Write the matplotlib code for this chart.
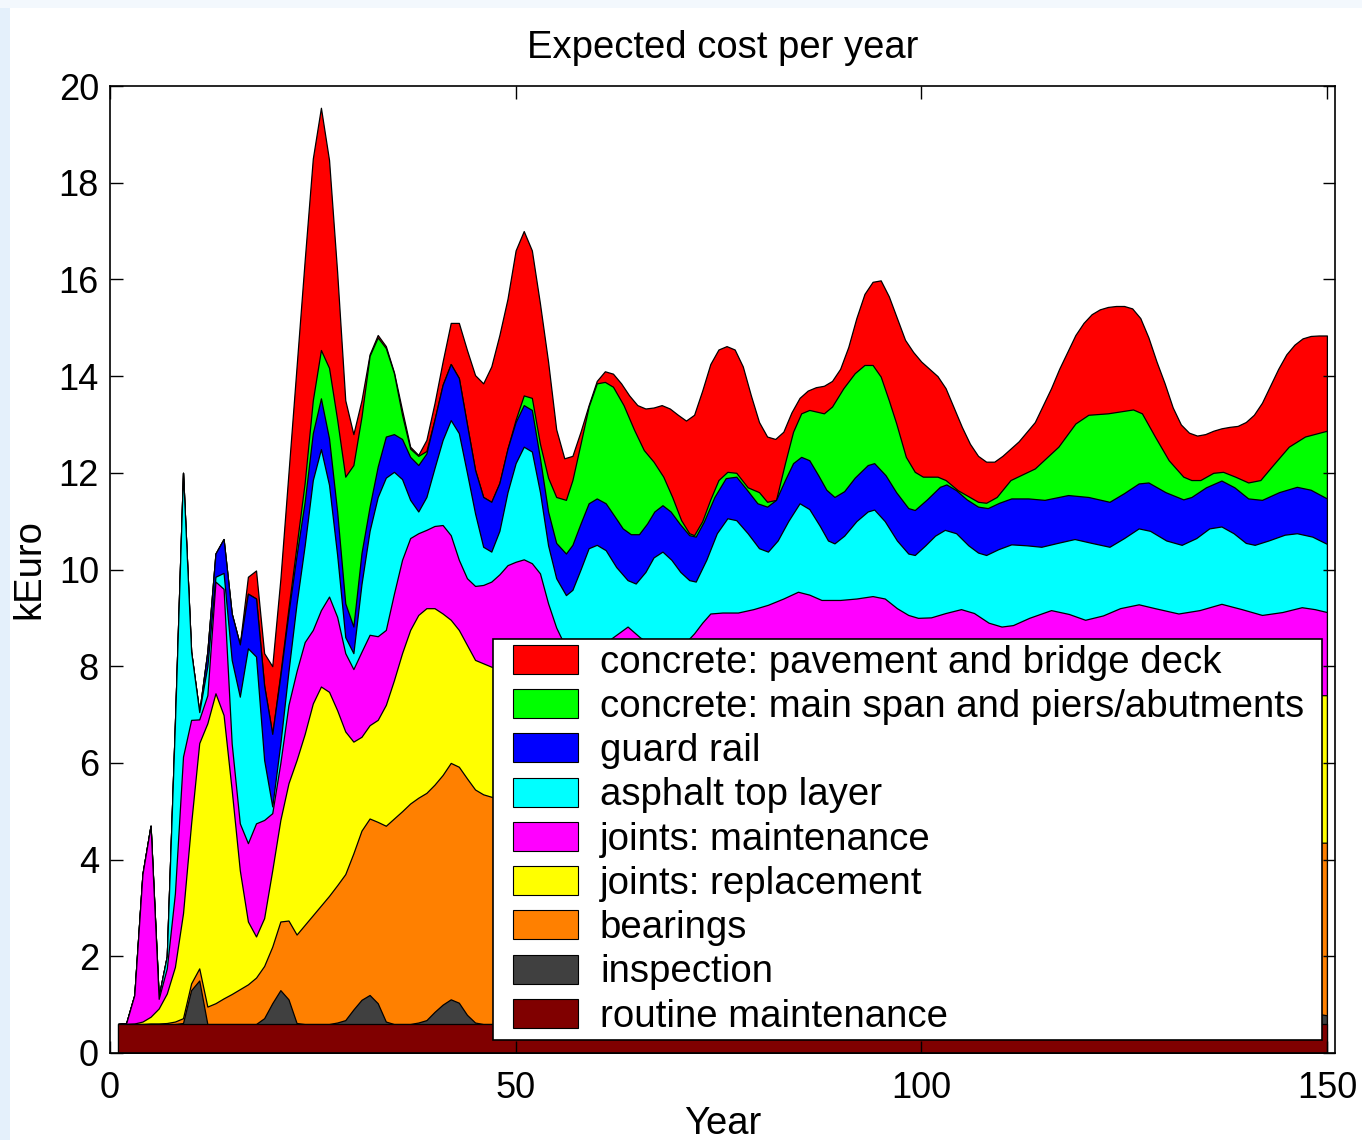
import numpy as np
import matplotlib
matplotlib.use("Agg")
import matplotlib.pyplot as plt
from matplotlib.patches import Patch, Rectangle
from matplotlib.legend_handler import HandlerPatch

plt.rcParams['font.family'] = ['Liberation Sans', 'DejaVu Sans']

# Expected maintenance cost per year (kEuro), stacked.
# Each *_top list holds the upper edge of that layer in the stack.
years_early = list(range(1, 56))

routine_x = [1, 150]
routine_top = [0.6, 0.6]

insp_top_early = [.6, .6, .6, .6, .6, .6, .6, .6, .62, 1.3,
                  1.5, .6, .6, .6, .6, .6, .6, .6, .72, 1.03,
                  1.3, 1.11, .62, .6, .6, .6, .6, .63, .68, .9,
                  1.1, 1.2, 1.03, .65, .6, .6, .6, .63, .68, .85,
                  1.0, 1.11, 1.04, .79, .63, .6, .6, .6, .6, .65,
                  .8, .95, .9, .7, .6]
insp_x_late = [60, 62.5, 65, 70.5, 73, 75.5, 81, 83.5, 86, 91.5, 94, 96.5,
               102, 104.5, 107, 112.5, 115, 117.5, 123.5, 126, 128.5,
               134, 136.5, 139, 145, 147.5, 150]
insp_top_late = [.6, .95, .6, .6, .95, .6, .6, .92, .6, .6, .9, .6,
                 .6, .9, .6, .6, .88, .6, .6, .88, .6,
                 .6, .85, .6, .6, .85, .78]

bear_top_early = [.6, .6, .6, .6, .61, .61, .62, .65, .72, 1.44,
                  1.75, .96, 1.03, 1.13, 1.22, 1.32, 1.42, 1.56, 1.8, 2.2,
                  2.72, 2.74, 2.45, 2.65, 2.85, 3.05, 3.25, 3.47, 3.7, 4.13,
                  4.6, 4.85, 4.78, 4.7, 4.85, 5.0, 5.16, 5.28, 5.38, 5.55,
                  5.75, 6.0, 5.92, 5.68, 5.45, 5.35, 5.3, 5.25, 5.2, 5.15,
                  5.1, 5.05, 5.0, 4.95, 4.9]
bear_x_late = [60, 65, 70, 75, 80, 85, 90, 95, 100, 105, 110, 115, 120,
               125, 130, 135, 140, 145, 150]
bear_top_late = [4.8, 4.7, 4.7, 4.8, 4.75, 4.65, 4.6, 4.55, 4.5, 4.45, 4.45,
                 4.4, 4.4, 4.4, 4.35, 4.35, 4.35, 4.35, 4.35]

repl_top_early = [.6, .6, .61, .65, .75, .92, 1.23, 1.78, 2.89, 4.75,
                  6.41, 6.82, 7.44, 6.99, 5.44, 3.78, 2.72, 2.41, 2.79, 3.78,
                  4.82, 5.58, 6.06, 6.6, 7.23, 7.58, 7.47, 7.09, 6.65, 6.44,
                  6.54, 6.78, 6.89, 7.2, 7.71, 8.27, 8.75, 9.06, 9.2, 9.2,
                  9.09, 8.96, 8.75, 8.44, 8.13, 8.06, 7.99, 7.95, 7.9, 7.85,
                  7.8, 7.7, 7.6, 7.5, 7.4]
repl_x_late = [57, 60, 63, 66, 70, 75, 80, 85, 90, 95, 100, 105, 110, 115,
               120, 125, 130, 135, 140, 145, 150]
repl_top_late = [7.3, 7.4, 7.6, 7.7, 7.8, 7.9, 8.0, 8.1, 8.0, 7.9, 7.8, 7.7,
                 7.6, 7.6, 7.5, 7.5, 7.45, 7.45, 7.4, 7.4, 7.4]

jmaint_top_early = [.6, .62, 1.2, 3.7, 4.7, 1.12, 1.75, 3.3, 6.13, 6.89,
                    6.9, 7.4, 9.75, 9.6, 6.4, 4.75, 4.34, 4.75, 4.82, 4.96,
                    6.0, 7.2, 7.9, 8.5, 8.75, 9.16, 9.44, 9.02, 8.27, 7.94,
                    8.3, 8.65, 8.62, 8.75, 9.5, 10.2, 10.65, 10.75, 10.82, 10.9,
                    10.92, 10.71, 10.2, 9.82, 9.66, 9.68, 9.75, 9.9, 10.09, 10.16,
                    10.21, 10.13, 9.92, 9.3, 8.8]
jmaint_x_late = [56, 58, 60, 62, 63.8, 65.3, 67, 69, 71, 72, 73, 74, 75.5,
                 77.4, 79.3, 81.1, 83, 84.8, 86.2, 87.7, 90, 92, 94, 95.5,
                 97, 98.4, 99.6, 101.2, 103, 104.9, 106.5, 108.3, 109.9,
                 111.3, 113.3, 116, 118.2, 120.2, 122.4, 124.5, 126.8, 128.8,
                 131.7, 134.3, 137, 139.5, 142, 144.5, 146.9, 148.5, 150]
jmaint_top_late = [8.45, 8.3, 8.35, 8.6, 8.82, 8.6, 8.4, 8.35, 8.5, 8.68,
                   8.9, 9.09, 9.11, 9.11, 9.18, 9.27, 9.4, 9.54, 9.48, 9.37,
                   9.37, 9.4, 9.45, 9.4, 9.2, 9.06, 9.0, 9.01, 9.1, 9.18,
                   9.1, 8.9, 8.82, 8.85, 9.0, 9.16, 9.08, 8.96, 9.05, 9.2,
                   9.28, 9.2, 9.09, 9.16, 9.29, 9.18, 9.06, 9.12, 9.22, 9.18,
                   9.12]

asph_top_early = [.6, .62, 1.2, 3.7, 4.7, 1.17, 2.0, 6.8, 12.0, 8.3,
                  7.05, 8.0, 9.85, 9.93, 8.13, 7.37, 8.37, 8.2, 6.06, 5.1,
                  6.4, 7.9, 9.3, 10.5, 11.85, 12.49, 11.75, 10.3, 8.6, 8.27,
                  9.7, 10.8, 11.5, 11.9, 12.02, 11.87, 11.44, 11.2, 11.5, 12.1,
                  12.68, 13.09, 12.82, 12.0, 11.16, 10.47, 10.37, 10.8, 11.6, 12.2,
                  12.54, 12.44, 11.6, 10.5, 9.82]
asph_x_late = [56.2, 57, 58, 59, 60, 61.1, 62.4, 63.8, 64.8, 66, 67, 68.1,
               69.2, 70.3, 71.4, 72.2, 73.5, 74.8, 76.1, 77.2, 78.6, 80,
               81.1, 82.3, 83.6, 85, 86.2, 87.5, 88.5, 89.3, 90.5, 92, 93.4,
               94.2, 95.5, 97, 98.4, 99.2, 100.5, 101.7, 102.9, 104.3, 105.8,
               107, 108, 109.5, 111.1, 113, 114.8, 116.8, 118.9, 121, 123.2,
               125, 126.8, 128.2, 130.2, 132.1, 133.9, 135.5, 137, 138.5, 140,
               141.1, 142.8, 144.8, 146.3, 148.2, 150]
asph_top_late = [9.47, 9.58, 10.0, 10.44, 10.51, 10.4, 10.05, 9.78, 9.71,
                 9.95, 10.25, 10.37, 10.2, 9.95, 9.78, 9.75, 10.2, 10.75,
                 11.06, 11.02, 10.75, 10.44, 10.37, 10.6, 11.0, 11.37, 11.25,
                 10.9, 10.6, 10.54, 10.7, 11.0, 11.2, 11.24, 11.0, 10.6,
                 10.33, 10.3, 10.5, 10.7, 10.82, 10.75, 10.5, 10.35, 10.3,
                 10.42, 10.52, 10.5, 10.47, 10.55, 10.63, 10.55, 10.47, 10.65,
                 10.85, 10.8, 10.6, 10.51, 10.65, 10.85, 10.89, 10.75, 10.55,
                 10.51, 10.6, 10.72, 10.75, 10.68, 10.53]

rail_top_early = [.6, .62, 1.2, 3.7, 4.7, 1.17, 2.0, 6.8, 12.0, 8.3,
                  7.05, 8.3, 10.33, 10.63, 9.09, 8.45, 9.5, 9.4, 7.6, 6.6,
                  7.8, 9.1, 10.3, 11.4, 12.82, 13.54, 12.71, 11.2, 9.3, 8.82,
                  10.34, 11.3, 12.13, 12.75, 12.8, 12.7, 12.33, 12.16, 12.4, 13.1,
                  13.82, 14.25, 13.96, 13.0, 12.06, 11.5, 11.4, 11.79, 12.5, 13.05,
                  13.4, 13.3, 12.3, 11.2, 10.55]
rail_x_late = [56.2, 57, 58, 59, 60, 61.1, 62.2, 63.2, 64.2, 65.2, 66.2,
               67.1, 68.1, 69.1, 70.2, 71.4, 72.2, 73.2, 74.5, 75.9, 77.2,
               78.5, 79.8, 81, 82.1, 83.2, 84.2, 85.2, 86.2, 87.3, 88.3, 89.3,
               90.5, 91.8, 93.4, 94.2, 95.6, 96.9, 98.4, 99.2, 100.7, 102.3,
               103.1, 104.3, 105.6, 107, 108.2, 109.6, 111.1, 113.2, 115.2,
               118.1, 120.6, 123.2, 125, 126.8, 128, 130.1, 132.3, 133.3,
               135.1, 137, 138.6, 140.3, 142, 144.1, 146.3, 148, 150]
rail_top_late = [10.33, 10.51, 10.95, 11.37, 11.47, 11.37, 11.1, 10.85,
                 10.73, 10.73, 10.95, 11.2, 11.33, 11.2, 10.95, 10.71, 10.68,
                 10.99, 11.5, 11.89, 11.92, 11.65, 11.37, 11.3, 11.44, 11.85,
                 12.2, 12.33, 12.26, 11.95, 11.65, 11.5, 11.62, 11.9, 12.16,
                 12.2, 11.95, 11.6, 11.27, 11.23, 11.45, 11.71, 11.76, 11.64,
                 11.45, 11.3, 11.27, 11.38, 11.47, 11.47, 11.44, 11.54, 11.5,
                 11.4, 11.58, 11.78, 11.8, 11.6, 11.45, 11.5, 11.7, 11.84,
                 11.7, 11.47, 11.44, 11.6, 11.71, 11.65, 11.47]

span_top_early = [.6, .62, 1.2, 3.7, 4.7, 1.17, 2.0, 6.8, 12.0, 8.3,
                  7.05, 8.3, 10.33, 10.63, 9.09, 8.45, 9.5, 9.4, 7.6, 6.6,
                  7.85, 9.2, 10.5, 11.8, 13.5, 14.54, 14.17, 13.1, 11.92, 12.16,
                  13.16, 14.42, 14.8, 14.58, 14.06, 13.2, 12.5, 12.35, 12.45, 13.1,
                  13.82, 14.25, 13.96, 13.0, 12.06, 11.5, 11.4, 11.79, 12.5, 13.1,
                  13.6, 13.55, 12.6, 11.9, 11.5]
span_x_late = [56.2, 57, 58, 59, 60, 61, 62, 63.3, 64.6, 65.8, 67, 68.2,
               69.3, 70.4, 71.4, 72, 73, 74, 75, 76.1, 77.2, 78.6, 80, 81,
               82.1, 83.2, 84.2, 85.2, 86.2, 88, 89, 90.4, 91.8, 93, 94, 95,
               96, 96.9, 98.1, 99.2, 100.2, 102, 103, 104.5, 107, 108, 109.3,
               111, 114, 116.9, 119, 120.6, 123, 126.1, 127.2, 128.8, 130.5,
               132.3, 133.3, 134.4, 136, 137.2, 138.7, 140.3, 141.8, 143.2,
               145.3, 147.3, 150]
span_top_late = [11.44, 11.85, 12.6, 13.37, 13.85, 13.88, 13.78, 13.4, 12.89,
                 12.47, 12.23, 11.92, 11.5, 11.02, 10.75, 10.71, 11.0, 11.45,
                 11.85, 12.02, 12.0, 11.7, 11.6, 11.4, 11.44, 12.2, 12.85,
                 13.23, 13.3, 13.23, 13.37, 13.75, 14.06, 14.23, 14.23, 13.99,
                 13.5, 13.03, 12.33, 12.02, 11.92, 11.92, 11.85, 11.64, 11.4,
                 11.38, 11.5, 11.85, 12.09, 12.54, 13.02, 13.2, 13.23, 13.31,
                 13.23, 12.75, 12.26, 11.92, 11.85, 11.85, 12.0, 12.02, 11.92,
                 11.8, 11.85, 12.13, 12.54, 12.75, 12.87]

deck_top_early = [.6, .62, 1.2, 3.7, 4.7, 1.17, 2.0, 6.8, 12.0, 8.3,
                  7.05, 8.3, 10.33, 10.63, 9.09, 8.45, 9.85, 9.98, 8.27, 8.0,
                  9.8, 12.0, 14.2, 16.4, 18.5, 19.55, 18.47, 16.15, 13.5, 12.8,
                  13.5, 14.45, 14.85, 14.62, 14.08, 13.3, 12.54, 12.37, 12.68, 13.44,
                  14.3, 15.1, 15.1, 14.54, 14.02, 13.85, 14.2, 14.85, 15.6, 16.6,
                  17.0, 16.6, 15.5, 14.3, 12.9]
deck_x_late = list(range(56, 151))
deck_top_late = [12.3, 12.35, 12.85, 13.4, 13.9, 14.1, 14.05, 13.85, 13.6, 13.4,
                 13.33, 13.35, 13.4, 13.33, 13.2, 13.08, 13.2, 13.7, 14.25, 14.55,
                 14.62, 14.55, 14.2, 13.6, 13.05, 12.75, 12.7, 12.85, 13.25, 13.55,
                 13.7, 13.77, 13.8, 13.9, 14.15, 14.6, 15.2, 15.7, 15.95, 15.98,
                 15.65, 15.2, 14.75, 14.5, 14.3, 14.15, 14.0, 13.75, 13.35, 12.95,
                 12.6, 12.35, 12.23, 12.23, 12.35, 12.5, 12.65, 12.85, 13.05, 13.4,
                 13.75, 14.15, 14.5, 14.85, 15.1, 15.28, 15.38, 15.43, 15.45, 15.45,
                 15.4, 15.2, 14.8, 14.3, 13.85, 13.35, 13.0, 12.83, 12.77, 12.8,
                 12.87, 12.92, 12.95, 12.97, 13.05, 13.2, 13.45, 13.8, 14.15, 14.45,
                 14.65, 14.78, 14.83, 14.84, 14.84]

labels = ["concrete: pavement and bridge deck",
          "concrete: main span and piers/abutments",
          "guard rail",
          "asphalt top layer",
          "joints: maintenance",
          "joints: replacement",
          "bearings",
          "inspection",
          "routine maintenance"]
colors = ["#ff0000", "#00ff00", "#0000ff", "#00ffff", "#ff00ff",
          "#ffff00", "#ff8000", "#404040", "#800000"]

# upper edges, from the top of the stack downwards
layers = [
    (years_early + deck_x_late, deck_top_early + deck_top_late),
    (years_early + span_x_late, span_top_early + span_top_late),
    (years_early + rail_x_late, rail_top_early + rail_top_late),
    (years_early + asph_x_late, asph_top_early + asph_top_late),
    (years_early + jmaint_x_late, jmaint_top_early + jmaint_top_late),
    (years_early + repl_x_late, repl_top_early + repl_top_late),
    (years_early + bear_x_late, bear_top_early + bear_top_late),
    (years_early + insp_x_late, insp_top_early + insp_top_late),
    (routine_x, routine_top),
]

fig = plt.figure(figsize=(13.62, 11.40), dpi=100)
fig.patch.set_facecolor("white")
fig.patches.append(Rectangle((0, 0), 10 / 1362, 1, transform=fig.transFigure,
                             facecolor="#e4f0fb", edgecolor="none", zorder=-1))
fig.patches.append(Rectangle((0, 1 - 8 / 1140), 1, 8 / 1140,
                             transform=fig.transFigure,
                             facecolor="#f3f8fd", edgecolor="none", zorder=-1))

ax = fig.add_axes([110 / 1362, 87 / 1140, 1225 / 1362, 967 / 1140])

# paint each layer from zero up to its top edge, topmost first,
# so every lower layer covers the part of the one above it
for (x, top), c in zip(layers, colors):
    ax.fill_between(np.array(x, dtype=float), 0, np.array(top),
                    facecolor=c, edgecolor="black", linewidth=0.9)

ax.set_xlim(0, 151)
ax.set_ylim(0, 20)
ax.set_xticks([0, 50, 100, 150])
ax.set_yticks(np.arange(0, 21, 2))
ax.tick_params(direction="in", top=True, right=True, length=9, width=1,
               labelsize=26)
ax.tick_params(axis="x", pad=13)
ax.tick_params(axis="y", pad=8)
for s in ax.spines.values():
    s.set_linewidth(1.2)

ax.set_title("Expected cost per year", fontsize=27.5, pad=20)
ax.set_xlabel("Year", fontsize=27.5, labelpad=0)
ax.set_ylabel("kEuro", fontsize=27.5, labelpad=8)


def inset_swatch(legend, orig_handle, xdescent, ydescent, width, height,
                 fontsize):
    # leave a gap between the frame and the colour swatch
    gap = 10
    return Rectangle((-xdescent + gap, -ydescent), width - gap, height)


handles = [Patch(facecolor=c, edgecolor="black", linewidth=0.8) for c in colors]
leg = ax.legend(handles, labels, loc="upper left", mode="expand",
                bbox_to_anchor=(383 / 1225, 16 / 967, 829 / 1225, 398 / 967),
                borderaxespad=0, fontsize=27.6, frameon=True, fancybox=False,
                framealpha=1, edgecolor="black", handlelength=2.06,
                handleheight=0.78, handletextpad=0.58, labelspacing=0.215,
                borderpad=0.15,
                handler_map={Patch: HandlerPatch(patch_func=inset_swatch)})
leg.get_frame().set_linewidth(1.2)

fig.savefig("out.png", dpi=100)
